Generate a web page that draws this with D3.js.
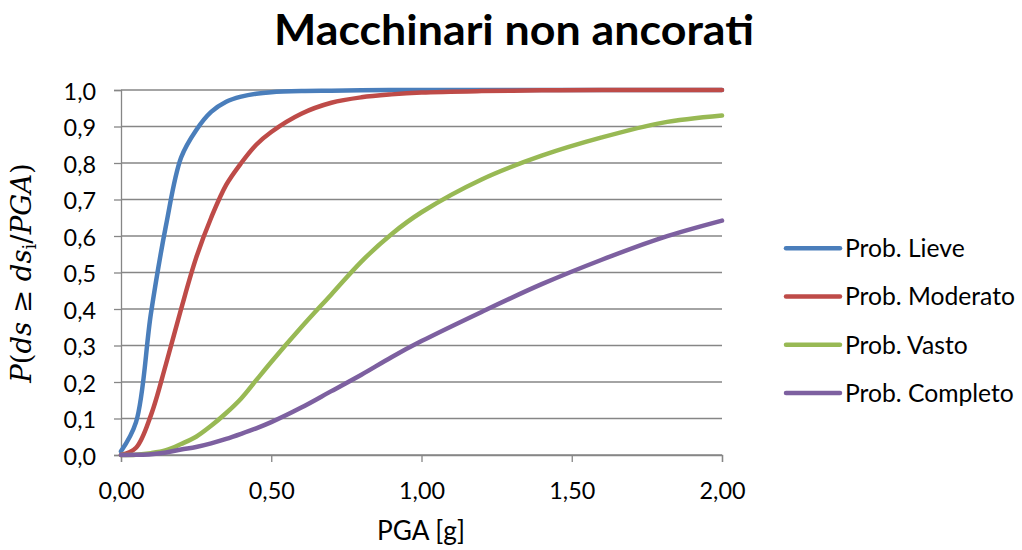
<!DOCTYPE html>
<html>
<head>
<meta charset="utf-8">
<script src="https://cdn.jsdelivr.net/npm/d3@7"></script>
<style>
  body { margin: 0; background: #fff; }
  text { font-family: Lato, "Open Sans", sans-serif; }
</style>
</head>
<body>
<svg width="1022" height="550"></svg>
<script>
// values
var pga = [0, 0.05, 0.1, 0.15, 0.2, 0.25, 0.3, 0.35, 0.4, 0.45, 0.5, 0.6, 0.7, 0.8, 0.9, 1.0, 1.2, 1.4, 1.6, 1.8, 2.0];
var lieve     = [0.01, 0.09, 0.39, 0.63, 0.815, 0.89, 0.94, 0.968, 0.982, 0.99, 0.994, 0.997, 0.998, 0.999, 1.0, 1.0, 1.0, 1.0, 1.0, 1.0, 1.0];
var moderato  = [0, 0.02, 0.11, 0.25, 0.40, 0.54, 0.65, 0.74, 0.80, 0.85, 0.885, 0.935, 0.965, 0.98, 0.988, 0.993, 0.997, 0.999, 1.0, 1.0, 1.0];
var vasto     = [0, 0.001, 0.005, 0.013, 0.03, 0.05, 0.08, 0.115, 0.155, 0.205, 0.255, 0.35, 0.44, 0.53, 0.605, 0.665, 0.755, 0.82, 0.87, 0.91, 0.93];
var completo  = [0, 0.0005, 0.002, 0.007, 0.015, 0.022, 0.032, 0.044, 0.058, 0.073, 0.09, 0.13, 0.175, 0.22, 0.268, 0.312, 0.392, 0.468, 0.535, 0.595, 0.642];
var seriesNames = ["Prob. Lieve", "Prob. Moderato", "Prob. Vasto", "Prob. Completo"];
var seriesColors = ["#4a7ebb", "#be4b48", "#98b954", "#7d60a0"];
var xTicks = [0, 0.5, 1.0, 1.5, 2.0];
var yTicks = [0, 0.1, 0.2, 0.3, 0.4, 0.5, 0.6, 0.7, 0.8, 0.9, 1.0];

var svg = d3.select("svg"),
    margin = {top: 90, left: 121},
    width = 601,
    height = 365;

var it = d3.formatLocale({decimal: ",", thousands: ".", grouping: [3], currency: ["", "€"]});
var fx = it.format(".2f"), fy = it.format(".1f");

// font size so that a sample string gets a given pixel width
function fitSize(sample, target, family) {
    var t = svg.append("text").attr("font-size", 100).style("font-family", family || null).text(sample);
    var w = t.node().getComputedTextLength();
    t.remove();
    return 100 * target / w;
}
var tickSize = fitSize("2,00", 46),
    legendSize = fitSize("Prob. Moderato", 170),
    labelSize = fitSize("PGA [g]", 88);

var x = d3.scaleLinear().domain([0, 2]).range([0, width]),
    y = d3.scaleLinear().domain([0, 1]).range([height, 0]);

var g = svg.append("g")
    .attr("transform", "translate(" + margin.left + "," + margin.top + ")");

// title
svg.append("text")
    .attr("x", 514)
    .attr("y", 45)
    .attr("text-anchor", "middle")
    .attr("font-size", "42px")
    .attr("font-weight", "bold")
    .attr("textLength", 480)
    .attr("lengthAdjust", "spacingAndGlyphs")
    .text("Macchinari non ancorati");

// gridlines
g.selectAll(".grid")
    .data(yTicks)
    .enter().append("line")
      .attr("x1", 0)
      .attr("x2", width)
      .attr("y1", function(d) { return y(d); })
      .attr("y2", function(d) { return y(d); })
      .attr("stroke", "#868686")
      .attr("stroke-width", 1.3);

var yAxis = g.append("g")
    .call(d3.axisLeft(y).tickValues(yTicks).tickFormat(fy).tickSize(7).tickPadding(18));
var xAxis = g.append("g")
    .attr("transform", "translate(0," + height + ")")
    .call(d3.axisBottom(x).tickValues(xTicks).tickFormat(fx).tickSize(7).tickPadding(20));

[xAxis, yAxis].forEach(function(a) {
    a.select(".domain").attr("stroke", "#868686").attr("stroke-width", 1.3);
    a.selectAll(".tick line").attr("stroke", "#868686").attr("stroke-width", 1.3);
    a.selectAll(".tick text")
        .attr("fill", "#000")
        .style("font-family", "Lato, 'Open Sans', sans-serif")
        .style("font-size", tickSize + "px");
});
yAxis.selectAll(".tick text").attr("dy", "0.4em");

// curves
var all = [lieve, moderato, vasto, completo];
var line = d3.line()
    .x(function(d, i) { return x(pga[i]); })
    .y(function(d) { return y(d); })
    .curve(d3.curveCatmullRom.alpha(0.5));

g.selectAll(".serie")
    .data(all)
    .enter().append("path")
      .attr("class", "serie")
      .attr("d", line)
      .attr("fill", "none")
      .attr("stroke", function(d, i) { return seriesColors[i]; })
      .attr("stroke-width", 4.5)
      .attr("stroke-linecap", "round")
      .attr("stroke-linejoin", "round");

// axis titles
svg.append("text")
    .attr("x", 421)
    .attr("y", 540)
    .attr("text-anchor", "middle")
    .attr("font-size", labelSize + "px")
    .text("PGA [g]");

var yt = svg.append("text")
    .attr("transform", "translate(31,273) rotate(-90)")
    .attr("text-anchor", "middle")
    .attr("font-size", "27px")
    .style("font-family", "'DejaVu Serif', 'Liberation Serif', serif");
yt.append("tspan").attr("font-style", "italic").text("P");
yt.append("tspan").text("(");
yt.append("tspan").attr("font-style", "italic").text("ds");
yt.append("tspan").text(" ≥ ");
yt.append("tspan").attr("font-style", "italic").text("ds");
yt.append("tspan").attr("font-size", "18px").attr("dy", 5).text("i");
yt.append("tspan").attr("dy", -5).text("/");
yt.append("tspan").attr("font-style", "italic").text("PGA");
yt.append("tspan").text(")");
var ytw = yt.node().getComputedTextLength();
yt.attr("font-size", (27 * 220 / ytw) + "px");

// legend
var legend = svg.selectAll(".legend")
    .data(seriesNames)
    .enter().append("g")
      .attr("class", "legend")
      .attr("transform", function(d, i) { return "translate(786," + (248.3 + i * 48.2) + ")"; });

legend.append("line")
    .attr("x1", 0)
    .attr("x2", 54)
    .attr("stroke", function(d, i) { return seriesColors[i]; })
    .attr("stroke-width", 4.5)
    .attr("stroke-linecap", "round");

legend.append("text")
    .attr("x", 59)
    .attr("dy", "0.36em")
    .attr("font-size", legendSize + "px")
    .text(function(d) { return d; });
</script>
</body>
</html>
